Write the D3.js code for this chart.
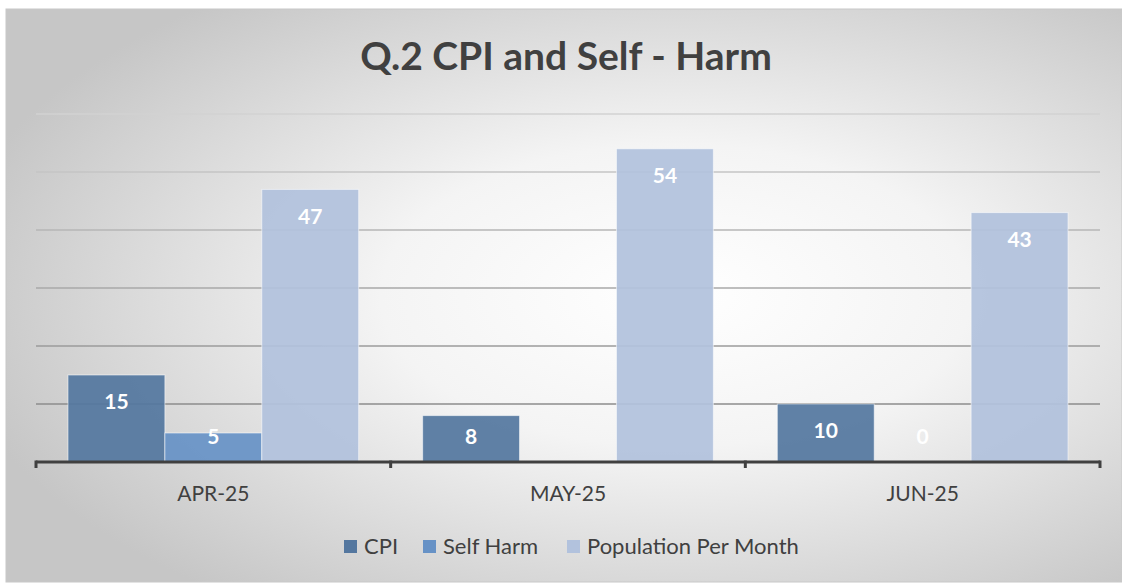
<!DOCTYPE html>
<html>
<head>
  <meta charset="utf-8">
  <script src="https://cdn.jsdelivr.net/npm/d3@7"></script>
  <style>
    body { margin: 0; background: #fff; }
    svg { display: block; font-family: Lato, "Open Sans", sans-serif; }
  </style>
</head>
<body>
<script>
  // chart data
  var months = ["APR-25", "MAY-25", "JUN-25"];
  var seriesNames = ["CPI", "Self Harm", "Population Per Month"];
  var cpi = [15, 8, 10];
  var selfHarm = [5, null, 0];
  var population = [47, 54, 43];
  var yTicks = [10, 20, 30, 40, 50, 60];

  var seriesValues = [cpi, selfHarm, population];
  var colors = ["#54779f", "#6792c6", "#b2c2dd"];

  var W = 1122, H = 583;
  var plotLeft = 36, plotRight = 1100, plotTop = 114, plotBottom = 462;

  var svg = d3.select("body").append("svg")
      .attr("width", W)
      .attr("height", H);

  var defs = svg.append("defs");
  var grad = defs.append("radialGradient")
      .attr("id", "bg")
      .attr("cx", "0.6").attr("cy", "0.5").attr("r", "0.66");
  grad.append("stop").attr("offset", "0%").attr("stop-color", "#ffffff");
  grad.append("stop").attr("offset", "40%").attr("stop-color", "#f4f4f4");
  grad.append("stop").attr("offset", "100%").attr("stop-color", "#c6c6c6");

  svg.append("rect")
      .attr("x", 6).attr("y", 9)
      .attr("width", W - 6).attr("height", 573)
      .attr("fill", "url(#bg)")
      .attr("stroke", "#c8c8c8")
      .attr("stroke-width", 1);

  // title
  svg.append("text")
      .attr("x", 566).attr("y", 70)
      .attr("text-anchor", "middle")
      .style("font-size", "39px")
      .style("font-weight", "bold")
      .style("fill", "#404040")
      .text("Q.2 CPI and Self - Harm");

  var x0 = d3.scaleBand().domain(months).range([plotLeft, plotRight]).padding(0);
  var x1 = d3.scaleBand().domain(seriesNames).range([0, x0.bandwidth()])
      .paddingInner(0).paddingOuter(0.33);
  var y = d3.scaleLinear().domain([0, 60]).range([plotBottom, plotTop]);

  // gridlines, getting darker toward the bottom
  var gridColor = d3.interpolateRgb("#d2d2d2", "#7f7f7f");
  svg.append("g").selectAll("line")
    .data(yTicks)
    .join("line")
      .attr("x1", plotLeft).attr("x2", plotRight)
      .attr("y1", d => y(d)).attr("y2", d => y(d))
      .attr("stroke", d => gridColor(1 - d / 60))
      .attr("stroke-width", 1.3);

  // bars
  var groups = svg.append("g").selectAll("g")
    .data(months)
    .join("g")
      .attr("transform", d => "translate(" + x0(d) + ",0)");

  var cells = groups.selectAll("g")
    .data((m, i) => seriesNames.map((s, j) => ({ s: s, j: j, v: seriesValues[j][i] })))
    .join("g");

  cells.filter(d => d.v != null && d.v > 0).append("rect")
      .attr("x", d => x1(d.s))
      .attr("y", d => y(d.v))
      .attr("width", x1.bandwidth())
      .attr("height", d => y(0) - y(d.v))
      .attr("fill", (d) => colors[d.j])
      .attr("fill-opacity", 0.93)
      .attr("stroke", "#ffffff")
      .attr("stroke-opacity", 0.55)
      .attr("stroke-width", 1);

  cells.filter(d => d.v != null).append("text")
      .attr("x", d => x1(d.s) + x1.bandwidth() / 2)
      .attr("y", d => Math.min(y(d.v) + 27, y(0) - 25))
      .attr("dy", "0.35em")
      .attr("text-anchor", "middle")
      .style("font-size", "21px")
      .style("font-weight", "bold")
      .style("fill", "#ffffff")
      .text(d => d.v);

  // x axis
  var axis = svg.append("g");
  axis.append("line")
      .attr("x1", plotLeft).attr("x2", plotRight)
      .attr("y1", plotBottom).attr("y2", plotBottom)
      .attr("stroke", "#404040").attr("stroke-width", 3);
  var tickXs = months.map(m => x0(m)).concat([plotRight]);
  axis.selectAll(".tick")
    .data(tickXs)
    .join("line")
      .attr("class", "tick")
      .attr("x1", d => d).attr("x2", d => d)
      .attr("y1", plotBottom - 1.5).attr("y2", plotBottom + 6)
      .attr("stroke", "#404040").attr("stroke-width", 3);

  axis.selectAll("text")
    .data(months)
    .join("text")
      .attr("x", d => x0(d) + x0.bandwidth() / 2)
      .attr("y", 501)
      .attr("text-anchor", "middle")
      .style("font-size", "21px")
      .style("fill", "#404040")
      .text(d => d);

  // legend
  var legendX = [344, 423, 567];
  var legend = svg.append("g").selectAll("g")
    .data(seriesNames)
    .join("g")
      .attr("transform", (d, i) => "translate(" + legendX[i] + ",540)");
  legend.append("rect")
      .attr("width", 13).attr("height", 13)
      .attr("fill", (d, i) => colors[i]);
  legend.append("text")
      .attr("x", 20).attr("y", 14)
      .style("font-size", "22px")
      .style("fill", "#404040")
      .text(d => d);
</script>
</body>
</html>
